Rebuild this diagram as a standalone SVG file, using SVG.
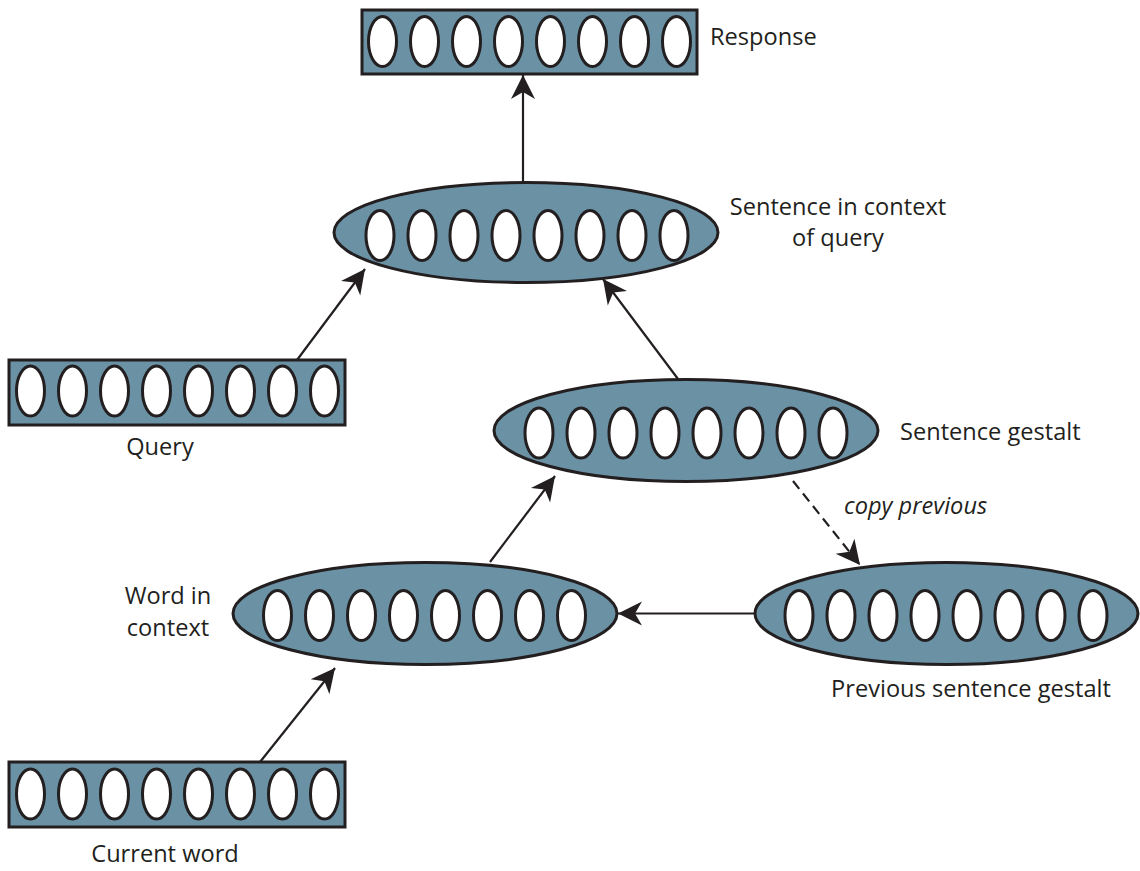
<svg xmlns="http://www.w3.org/2000/svg" width="1140" height="871" viewBox="0 0 1140 871">
  <style>
    .layer { fill: #6a91a4; stroke: #231f20; stroke-width: 3; }
    .unit { fill: #ffffff; stroke: #231f20; stroke-width: 3; }
    .edge { fill: none; stroke: #231f20; stroke-width: 2.2; }
    .dash { stroke-dasharray: 10 6; }
    .lbl { font-family: "Open Sans", "Liberation Sans", sans-serif; font-size: 23.6px; fill: #231f20; }
    .it { font-style: italic; }
  </style>
  <defs>
    <marker id="arrow" viewBox="0 0 26 26" refX="24" refY="13" markerWidth="26" markerHeight="26" markerUnits="userSpaceOnUse" orient="auto">
      <path d="M0,1 L24,13 L0,25 L7,13 Z" fill="#231f20"/>
    </marker>
    <!-- row of eight units, spaced 42px apart -->
    <g id="units">
      <ellipse class="unit" cx="0" cy="0" rx="14" ry="25"/>
      <ellipse class="unit" cx="42" cy="0" rx="14" ry="25"/>
      <ellipse class="unit" cx="84" cy="0" rx="14" ry="25"/>
      <ellipse class="unit" cx="126" cy="0" rx="14" ry="25"/>
      <ellipse class="unit" cx="168" cy="0" rx="14" ry="25"/>
      <ellipse class="unit" cx="210" cy="0" rx="14" ry="25"/>
      <ellipse class="unit" cx="252" cy="0" rx="14" ry="25"/>
      <ellipse class="unit" cx="294" cy="0" rx="14" ry="25"/>
    </g>
  </defs>

  <g id="connectors">
    <line class="edge" x1="523" y1="182" x2="523" y2="75" marker-end="url(#arrow)"/>
    <line class="edge" x1="297" y1="360" x2="365" y2="269" marker-end="url(#arrow)"/>
    <line class="edge" x1="678" y1="379" x2="603" y2="279" marker-end="url(#arrow)"/>
    <line class="edge" x1="490" y1="562" x2="555" y2="476" marker-end="url(#arrow)"/>
    <line class="edge" x1="260" y1="762" x2="335" y2="668" marker-end="url(#arrow)"/>
    <line class="edge" x1="755" y1="613.5" x2="618" y2="613.5" marker-end="url(#arrow)"/>
    <line class="edge dash" x1="793" y1="481" x2="860" y2="565" marker-end="url(#arrow)"/>
  </g>

  <g id="response">
    <rect class="layer" x="362" y="10" width="335" height="64"/>
    <use href="#units" x="382.5" y="41.5"/>
    <text class="lbl" x="710" y="45">Response</text>
  </g>

  <g id="sentence-in-context">
    <ellipse class="layer" cx="526" cy="232.5" rx="192" ry="50"/>
    <use href="#units" x="380" y="235.5"/>
    <text class="lbl" x="838" y="215" text-anchor="middle">Sentence in context</text>
    <text class="lbl" x="838" y="246" text-anchor="middle">of query</text>
  </g>

  <g id="query">
    <rect class="layer" x="9" y="360" width="336" height="65"/>
    <use href="#units" x="30.5" y="391"/>
    <text class="lbl" x="160" y="455" text-anchor="middle">Query</text>
  </g>

  <g id="sentence-gestalt">
    <ellipse class="layer" cx="686" cy="430.5" rx="192" ry="51"/>
    <use href="#units" x="539" y="433"/>
    <text class="lbl" x="900" y="440">Sentence gestalt</text>
  </g>

  <text class="lbl it" x="844" y="514">copy previous</text>

  <g id="word-in-context">
    <ellipse class="layer" cx="425" cy="613.5" rx="192" ry="51"/>
    <use href="#units" x="277.5" y="615.5"/>
    <text class="lbl" x="168" y="604" text-anchor="middle">Word in</text>
    <text class="lbl" x="168" y="636" text-anchor="middle">context</text>
  </g>

  <g id="previous-sentence-gestalt">
    <ellipse class="layer" cx="946.5" cy="613.5" rx="191.5" ry="51"/>
    <use href="#units" x="799" y="615.5"/>
    <text class="lbl" x="971" y="697" text-anchor="middle">Previous sentence gestalt</text>
  </g>

  <g id="current-word">
    <rect class="layer" x="9" y="762" width="336" height="65"/>
    <use href="#units" x="30.5" y="794"/>
    <text class="lbl" x="165" y="862" text-anchor="middle">Current word</text>
  </g>
</svg>
